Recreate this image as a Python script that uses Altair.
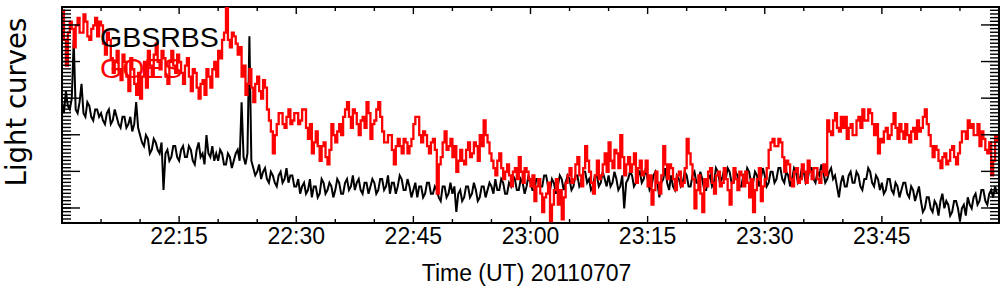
import altair as alt
import pandas as pd

# ---------------- data (arbitrary flux units) ----------------
# samples every 15 s starting 2011-07-07 22:00:00 UT
START = "2011-07-07 22:00:00"
STEP = "15s"

GBSRBS = [
    33, 30, 36, 32, 31, 34, 50, 31, 30, 33, 38, 30, 29, 33, 32, 29, 28, 31, 31, 29,
    30, 28, 27, 30, 31, 27, 28, 31, 29, 27, 26, 29, 29, 26, 27, 29, 25, 27, 33, 26,
    24, 22, 21, 24, 23, 19, 20, 23, 22, 20, 19, 22, 9, 19, 20, 17, 18, 21, 21, 18,
    17, 20, 21, 18, 18, 21, 20, 17, 16, 20, 22, 18, 19, 16, 24, 19, 18, 21, 17, 19,
    17, 20, 19, 16, 16, 19, 18, 15, 17, 19, 20, 17, 33, 18, 16, 19, 51, 17, 15, 13,
    14, 16, 12, 14, 15, 12, 11, 14, 13, 11, 10, 13, 14, 11, 12, 15, 11, 13, 13, 10,
    10, 12, 8, 10, 11, 8, 9, 12, 7, 10, 10, 7, 8, 12, 11, 8, 9, 11, 10, 7,
    9, 12, 11, 8, 8, 11, 12, 9, 10, 13, 9, 11, 12, 9, 8, 11, 11, 8, 10, 12,
    11, 8, 9, 12, 12, 9, 10, 13, 8, 11, 11, 8, 10, 13, 12, 9, 9, 12, 10, 7,
    9, 11, 7, 10, 10, 7, 8, 11, 11, 8, 8, 10, 9, 7, 6, 10, 10, 7, 8, 11,
    8, 10, 3, 8, 9, 6, 7, 10, 10, 7, 8, 11, 9, 6, 7, 10, 10, 7, 9, 11,
    10, 8, 12, 9, 9, 12, 11, 8, 8, 11, 10, 13, 12, 9, 9, 12, 11, 8, 10, 13,
    11, 9, 9, 12, 12, 10, 10, 13, 13, 10, 9, 12, 11, 8, 10, 13, 12, 9, 11, 13,
    12, 9, 10, 13, 13, 10, 11, 14, 14, 11, 12, 9, 10, 13, 13, 10, 11, 14, 12, 10,
    13, 10, 11, 14, 12, 9, 10, 13, 4, 11, 12, 14, 13, 10, 11, 13, 14, 11, 12, 15,
    12, 9, 10, 13, 14, 11, 7, 11, 12, 15, 11, 9, 13, 10, 9, 13, 12, 10, 11, 14,
    13, 10, 10, 13, 14, 11, 11, 14, 12, 9, 9, 12, 13, 10, 11, 15, 14, 11, 12, 14,
    12, 15, 14, 11, 11, 14, 13, 10, 10, 13, 12, 15, 14, 11, 11, 14, 13, 10, 12, 15,
    13, 10, 11, 14, 14, 11, 12, 15, 15, 12, 11, 14, 13, 10, 12, 15, 14, 11, 12, 15,
    14, 11, 12, 15, 15, 12, 11, 14, 13, 16, 14, 11, 12, 14, 15, 12, 13, 10, 7, 11,
    13, 10, 10, 13, 14, 11, 11, 14, 13, 10, 9, 12, 12, 15, 14, 11, 10, 13, 12, 9,
    11, 8, 9, 12, 12, 9, 8, 11, 10, 7, 9, 11, 11, 8, 7, 10, 9, 6, 8, 10,
    6, 3, 4, 7, 7, 4, 3, 6, 5, 2, 6, 8, 4, 6, 5, 2, 3, 6, 6, 4,
    0.5, 4, 5, 2, 7, 5, 4, 7, 8, 5, 6, 9, 9, 6, 5, 8, 9, 7, 10, 8,
]

GOES = [
    58, 50, 43, 52, 55, 53, 48, 54, 56, 52, 52, 57, 55, 51, 50, 53, 54, 56, 51, 55,
    54, 49, 46, 52, 50, 45, 41, 44, 47, 42, 39, 46, 44, 40, 36, 45, 42, 38, 35, 41,
    34, 40, 44, 37, 47, 43, 40, 46, 49, 44, 42, 47, 45, 40, 38, 44, 47, 43, 41, 46,
    44, 41, 38, 43, 45, 40, 36, 42, 41, 37, 34, 38, 39, 35, 42, 40, 37, 42, 44, 40,
    47, 45, 50, 52, 59, 50, 48, 52, 51, 49, 46, 48, 40, 43, 35, 38, 42, 37, 33, 38,
    40, 36, 34, 39, 37, 31, 28, 25, 19, 24, 27, 30, 30, 27, 26, 29, 31, 27, 28, 30,
    30, 27, 28, 31, 31, 26, 23, 27, 19, 22, 25, 21, 17, 21, 22, 18, 16, 20, 27, 24,
    22, 25, 27, 24, 29, 31, 33, 29, 26, 31, 30, 27, 24, 28, 29, 26, 33, 30, 23, 27,
    28, 31, 33, 29, 25, 22, 22, 24, 24, 20, 16, 21, 23, 21, 19, 23, 22, 19, 21, 23,
    27, 29, 29, 24, 22, 25, 24, 21, 19, 22, 23, 20, 8, 16, 18, 22, 25, 20, 21, 23,
    18, 21, 14, 17, 20, 17, 16, 20, 22, 18, 19, 22, 21, 17, 24, 21, 28, 24, 22, 19,
    17, 15, 13, 17, 19, 15, 12, 14, 16, 13, 10, 14, 15, 12, 18, 14, 11, 15, 14, 12,
    10, 13, 6, 10, 12, 8, 3, 7, 8, 11, 0.5, 5, 9, 12, 5, 9, 1, 7, 11, 13,
    15, 11, 12, 16, 18, 13, 10, 15, 21, 17, 14, 11, 8, 13, 17, 12, 13, 16, 19, 14,
    22, 17, 15, 20, 19, 15, 24, 18, 13, 16, 18, 14, 16, 19, 11, 15, 17, 13, 14, 17,
    10, 13, 5, 9, 14, 11, 8, 13, 21, 16, 12, 16, 15, 12, 9, 13, 14, 10, 11, 15,
    23, 19, 16, 12, 4, 9, 13, 8, 3, 12, 10, 14, 15, 11, 8, 13, 14, 10, 11, 15,
    12, 9, 5, 11, 15, 12, 9, 14, 13, 10, 14, 11, 7, 12, 3, 9, 12, 15, 6, 10,
    12, 15, 20, 22, 23, 21, 21, 23, 22, 18, 14, 17, 16, 12, 10, 14, 15, 11, 12, 16,
    14, 11, 17, 14, 12, 15, 15, 12, 11, 14, 16, 13, 28, 25, 24, 28, 30, 26, 25, 29,
    26, 29, 23, 26, 27, 24, 24, 28, 29, 26, 31, 28, 28, 31, 30, 27, 24, 27, 19, 23,
    22, 25, 26, 23, 24, 27, 30, 26, 23, 27, 25, 23, 27, 24, 22, 25, 26, 23, 28, 25,
    26, 29, 31, 27, 24, 21, 18, 21, 20, 17, 15, 18, 19, 16, 17, 20, 21, 18, 16, 19,
    22, 25, 25, 23, 28, 26, 27, 24, 24, 27, 21, 25, 23, 20, 19, 22, 13, 17, 24, 22,
]

SERIES_NAMES = ["GBSRBS", "GOES"]
SERIES_COLORS = ["#000000", "#ff0000"]

X_LABEL_TIMES = ["22:15", "22:30", "22:45", "23:00", "23:15", "23:30", "23:45"]
X_MINOR_TIMES = ["22:05", "22:10", "22:20", "22:25", "22:35", "22:40", "22:50",
                 "22:55", "23:05", "23:10", "23:20", "23:25", "23:35", "23:40",
                 "23:50", "23:55"]
Y_MAJOR_TICKS = [4.1, 14.1, 24.1, 34.1, 44.1, 54.1]
Y_MINOR_TICKS = [k + 0.1 for k in range(59)]
Y_DOMAIN = [0, 59]

X_TITLE = "Time (UT) 20110707"
Y_TITLE = "Light curves"

# ---------------- build tables ----------------
times = pd.date_range(START, periods=len(GBSRBS), freq=STEP).strftime("%Y-%m-%dT%H:%M:%SZ")
df = pd.DataFrame({"time": times, "gbsrbs": GBSRBS, "goes": GOES})


def iso(hhmm):
    return f"2011-07-07T{hhmm}:00Z"


def dt(hhmm, day=7):
    h, m = hhmm.split(":")
    return alt.DateTime(year=2011, month=7, date=day, hours=int(h), minutes=int(m), utc=True)


df_xmaj = pd.DataFrame({"time": [iso(t) for t in X_LABEL_TIMES], "label": X_LABEL_TIMES})
df_xmin = pd.DataFrame({"time": [iso(t) for t in X_MINOR_TIMES]})
df_ymaj = pd.DataFrame({"v": Y_MAJOR_TICKS})
df_ymin = pd.DataFrame({"v": Y_MINOR_TICKS})

W, H = 937, 216
FONT = "Liberation Sans"

xs = alt.Scale(type="utc", domain=[dt("22:00"), dt("00:00", day=8)], nice=False)
ys = alt.Scale(domain=Y_DOMAIN, nice=False, zero=False)
X = dict(field="time", type="temporal", scale=xs, axis=None)

black_line = alt.Chart(df).mark_line(color=SERIES_COLORS[0], strokeWidth=2, clip=True).encode(
    x=alt.X(**X),
    y=alt.Y("gbsrbs:Q", scale=ys, axis=None),
)
red_line = alt.Chart(df).mark_line(color=SERIES_COLORS[1], strokeWidth=2.3,
                                   interpolate="step-after", clip=True).encode(
    x=alt.X(**X),
    y=alt.Y("goes:Q", scale=ys, axis=None),
)

rule_style = dict(color="black", strokeWidth=1.4)
x_ticks = []
for d, ln in ((df_xmaj, 7), (df_xmin, 4)):
    x_ticks.append(alt.Chart(d).mark_rule(**rule_style).encode(
        x=alt.X(**X), y=alt.value(H), y2=alt.value(H - ln)))
    x_ticks.append(alt.Chart(d).mark_rule(**rule_style).encode(
        x=alt.X(**X), y=alt.value(0), y2=alt.value(ln)))
y_ticks = []
for d, ln in ((df_ymaj, 18), (df_ymin, 9)):
    y_ticks.append(alt.Chart(d).mark_rule(**rule_style).encode(
        y=alt.Y("v:Q", scale=ys, axis=None), x=alt.value(0), x2=alt.value(ln)))
    y_ticks.append(alt.Chart(d).mark_rule(**rule_style).encode(
        y=alt.Y("v:Q", scale=ys, axis=None), x=alt.value(W), x2=alt.value(W - ln)))

# tick labels and axis titles
x_labels = alt.Chart(df_xmaj).mark_text(
    fontSize=23, font=FONT, color="black", align="center", baseline="alphabetic"
).encode(x=alt.X(**X), y=alt.value(H + 20.5), text="label:N")

x_title = alt.Chart(pd.DataFrame({"t": [X_TITLE]})).mark_text(
    fontSize=23, font=FONT, color="black", align="center", baseline="alphabetic"
).encode(x=alt.value(W / 2 - 4), y=alt.value(H + 58), text="t:N")

y_title = alt.Chart(pd.DataFrame({"t": [Y_TITLE]})).mark_text(
    fontSize=27.5, font="DejaVu Sans", color="black", align="center", baseline="alphabetic",
    angle=270,
).encode(x=alt.value(-36), y=alt.value(95), text="t:N")

texts = []
for name, color, ypos in zip(SERIES_NAMES, SERIES_COLORS, (39.7, 71)):
    texts.append(alt.Chart(pd.DataFrame({"label": [name]})).mark_text(
        align="left", baseline="alphabetic", fontSize=28.5, font=FONT, color=color,
    ).encode(text="label:N", x=alt.value(38), y=alt.value(ypos)))

chart = alt.layer(black_line, red_line, *x_ticks, *y_ticks, x_labels, x_title, y_title,
                  *texts).properties(
    width=W, height=H,
    autosize=alt.AutoSizeParams(type="none"),
    padding={"left": 62, "top": 7, "right": 5, "bottom": 73},
    background="white",
).configure_view(stroke="black", strokeWidth=2)

chart.save("out.html", embed_options={"renderer": "svg", "actions": False})
